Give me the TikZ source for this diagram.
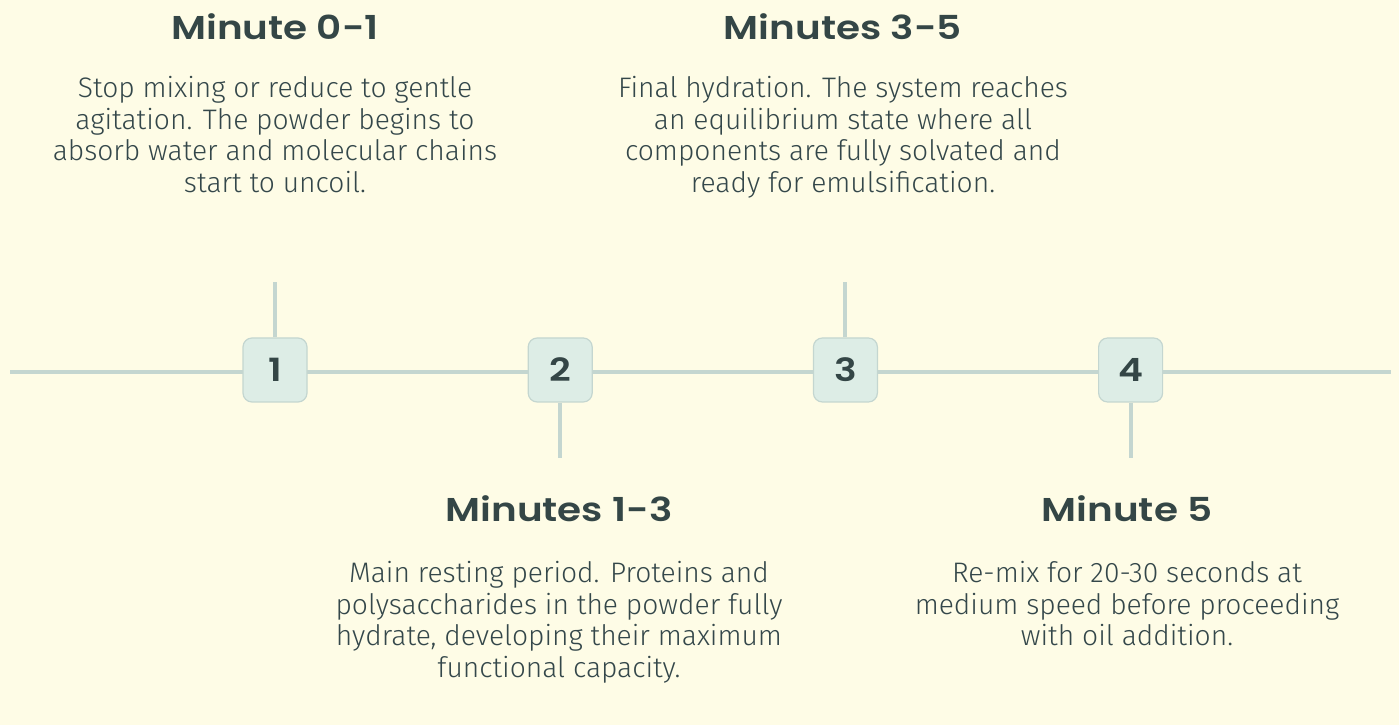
\documentclass[tikz,border=0pt]{standalone}
\usepackage{fontspec}
\setmainfont{Fira Sans}[UprightFont={* Light}]
\newfontfamily\headfont{Poppins}[FakeStretch=1.18,BoldFont={* SemiBold}]
\usetikzlibrary{positioning}
\definecolor{bgC}{HTML}{FEFCE6}
\definecolor{lnC}{HTML}{C4D6D0}
\definecolor{bxF}{HTML}{DDEDE6}
\definecolor{txt}{HTML}{34474A}
\definecolor{hdC}{HTML}{344646}

\begin{document}
\begin{tikzpicture}[
  x=1pt,y=1pt,text=txt,
  ln/.style={draw=lnC,line width=4pt},
  num/.style={draw=lnC,fill=bxF,line width=1.2pt,rounded corners=9pt,
    minimum width=64pt,minimum height=64pt,inner sep=0pt,
    font=\headfont\fontsize{32}{34}\selectfont\bfseries,text=hdC},
  head/.style={font=\headfont\fontsize{33}{36}\selectfont\bfseries,text=hdC,inner sep=0pt},
  body/.style={align=center,font=\fontsize{28.2}{31.7}\selectfont,inner sep=0pt},
  ]
\fill[bgC] (0,0) rectangle (1399,725);
\useasboundingbox (0,0) rectangle (1399,725);

% ================= main line + steps =================
\coordinate (lineL) at (10,353);
\coordinate (lineR) at (1391,353);
\draw[ln] (lineL) -- (lineR);

\node[num] (b1) at (275,355) {1};
\node[num,right=220pt of b1] (b2) {2};
\node[num,right=220pt of b2] (b3) {3};
\node[num,right=220pt of b3] (b4) {4};

% ---- stems ----
\coordinate (t1) at ([yshift=55pt]b1.north);
\coordinate (t2) at ([yshift=-55pt]b2.south);
\coordinate (t3) at ([yshift=55pt]b3.north);
\coordinate (t4) at ([yshift=-55pt]b4.south);
\foreach \n in {1,3}{\draw[ln] (b\n.north) -- (t\n);}
\foreach \n in {2,4}{\draw[ln] (b\n.south) -- (t\n);}

% ================= top texts =================
\node[head,anchor=base] (h1) at (275,685) {Minute 0-1};
\node[body,anchor=north] (d1) at (275,649)
  {Stop mixing or reduce to gentle\\agitation. The powder begins to\\absorb water and molecular chains\\start to uncoil.};

\node[head,anchor=base] (h3) at (843,685) {Minutes 3-5};
\node[body,anchor=north] (d3) at (843,649)
  {Final hydration. The system reaches\\an equilibrium state where all\\components are fully solvated and\\ready for emulsification.};

% ================= bottom texts =================
\node[head,anchor=base] (h2) at (559,203) {Minutes 1-3};
\node[body,anchor=north] (d2) at (559,164)
  {Main resting period. Proteins and\\polysaccharides in the powder fully\\hydrate, developing their maximum\\functional capacity.};

\node[head,anchor=base] (h4) at (1127,203) {Minute 5};
\node[body,anchor=north] (d4) at (1127,164)
  {Re-mix for 20-30 seconds at\\medium speed before proceeding\\with oil addition.};

\end{tikzpicture}
\end{document}
